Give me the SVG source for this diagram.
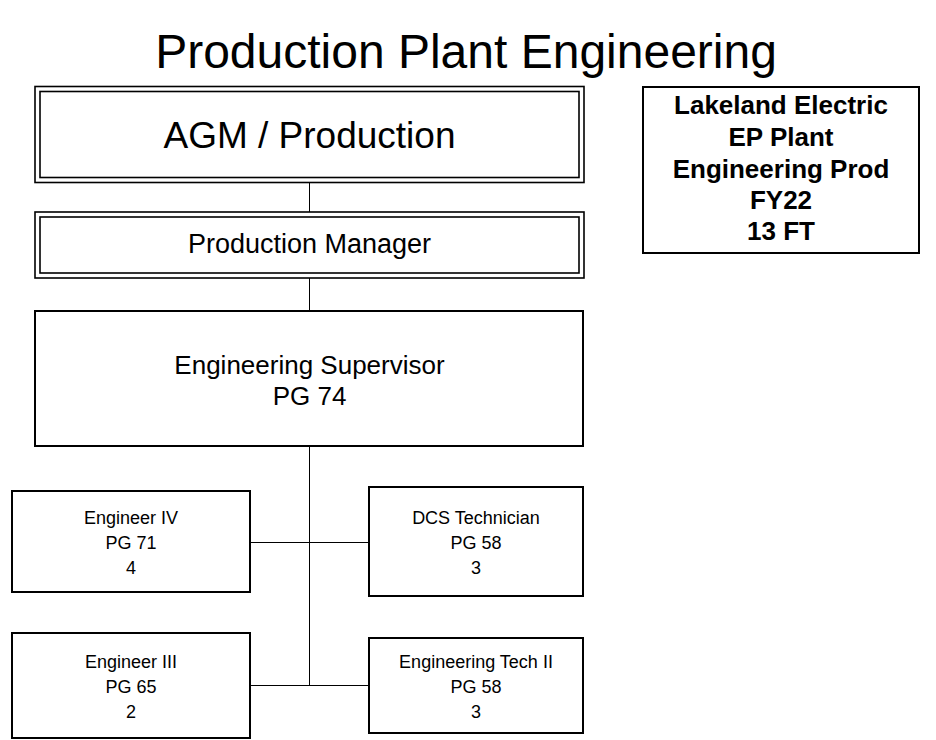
<svg xmlns="http://www.w3.org/2000/svg" width="936" height="740" viewBox="0 0 936 740">
<style>
text{font-family:"Liberation Sans",Arial,sans-serif;fill:#000;text-anchor:middle}
.box{fill:#fff;stroke:#000;stroke-width:2}
.dbl{fill:none;stroke:#000;stroke-width:1.6}
.con{stroke:#000;stroke-width:1;fill:none}
.t18{font-size:18px}
.t26{font-size:26px}
.b{font-weight:bold;font-size:26px}
</style>
<rect width="936" height="740" fill="#fff"/>
<text x="466" y="68" style="font-size:48px">Production Plant Engineering</text>
<g id="connectors">
<line class="con" x1="309.5" y1="183" x2="309.5" y2="212"/>
<line class="con" x1="309.5" y1="278" x2="309.5" y2="311"/>
<line class="con" x1="309.5" y1="446" x2="309.5" y2="685.5"/>
<line class="con" x1="250" y1="542.5" x2="369" y2="542.5"/>
<line class="con" x1="250" y1="685.5" x2="369" y2="685.5"/>
</g>
<g id="agm">
<rect class="dbl" x="35" y="86.5" width="549" height="96"/>
<rect class="dbl" x="40" y="91.5" width="539" height="86"/>
<text x="309.5" y="148" style="font-size:37px">AGM / Production</text>
</g>
<g id="prodmgr">
<rect class="dbl" x="35" y="212" width="549" height="66"/>
<rect class="dbl" x="40" y="217" width="539" height="56"/>
<text x="309.5" y="253" style="font-size:27px">Production Manager</text>
</g>
<g id="engsup">
<rect class="box" x="35" y="311" width="548" height="135"/>
<text x="309.5" y="374" class="t26">Engineering Supervisor</text>
<text x="309.5" y="405" class="t26">PG 74</text>
</g>
<g id="eng4">
<rect class="box" x="12" y="491" width="238" height="101"/>
<text x="131" y="524" class="t18">Engineer IV</text>
<text x="131" y="549" class="t18">PG 71</text>
<text x="131" y="574" class="t18">4</text>
</g>
<g id="dcs">
<rect class="box" x="369" y="487" width="214" height="109"/>
<text x="476" y="524" class="t18">DCS Technician</text>
<text x="476" y="549" class="t18">PG 58</text>
<text x="476" y="574" class="t18">3</text>
</g>
<g id="eng3">
<rect class="box" x="12" y="633" width="238" height="105"/>
<text x="131" y="668" class="t18">Engineer III</text>
<text x="131" y="693" class="t18">PG 65</text>
<text x="131" y="718" class="t18">2</text>
</g>
<g id="engtech2">
<rect class="box" x="369" y="638" width="214" height="95"/>
<text x="476" y="668" class="t18">Engineering Tech II</text>
<text x="476" y="693" class="t18">PG 58</text>
<text x="476" y="718" class="t18">3</text>
</g>
<g id="legend">
<rect class="box" x="643" y="87" width="276" height="166"/>
<text x="781" y="114" class="b">Lakeland Electric</text>
<text x="781" y="146" class="b">EP Plant</text>
<text x="781" y="178" class="b">Engineering Prod</text>
<text x="781" y="209" class="b">FY22</text>
<text x="781" y="240" class="b">13 FT</text>
</g>
</svg>
